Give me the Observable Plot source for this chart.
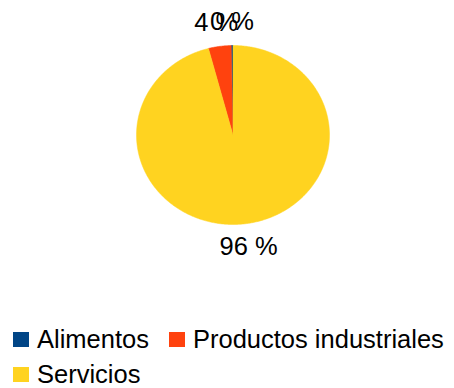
<!DOCTYPE html>
<html>
<head>
<meta charset="utf-8">
<script src="https://cdn.jsdelivr.net/npm/d3@7"></script>
<script src="https://cdn.jsdelivr.net/npm/@observablehq/plot@0.6"></script>
<style>
  html, body { margin: 0; padding: 0; background: #fff; }
  body { width: 454px; height: 388px; overflow: hidden; font-family: "Liberation Sans", Arial, sans-serif; }
  #legend { display: flex; flex-wrap: wrap; column-gap: 20px; width: 466px; padding-left: 13px; box-sizing: border-box; }
  .item { display: flex; align-items: center; height: 35px; font-size: 25.5px; color: #000; white-space: nowrap; }
  .sw { width: 16px; height: 15px; margin-right: 8px; }
</style>
</head>
<body>
<div id="chart"></div>
<div id="legend"></div>
<script>
const categories = ["Alimentos", "Productos industriales", "Servicios"];
const values = [0.3, 3.8, 95.9];
const labels = ["0 %", "4 %", "96 %"];
const colors = ["#004586", "#ff420e", "#ffd320"];

// pie geometry, counterclockwise from 12 o'clock (LibreOffice style)
const total = d3.sum(values);
let acc = 0;
const slices = categories.map((name, i) => {
  const a0 = acc / total * 2 * Math.PI;
  acc += values[i];
  const a1 = acc / total * 2 * Math.PI;
  return {name, a0, a1, label: labels[i]};
});
const pt = (a, r) => ({x: -Math.sin(a) * r, y: Math.cos(a) * r});
const wedgePts = [];
for (const s of slices) {
  const n = Math.max(2, Math.ceil((s.a1 - s.a0) / 0.01));
  wedgePts.push({name: s.name, ...pt(0, 0)});
  for (let k = 0; k <= n; k++) {
    const a = s.a0 + (s.a1 - s.a0) * k / n;
    wedgePts.push({name: s.name, ...pt(a, 1)});
  }
  wedgePts.push({name: s.name, ...pt(0, 0)});
}
const labelPts = slices.map(s => ({label: s.label, ...pt((s.a0 + s.a1) / 2, 1.265)}));

const plot = Plot.plot({
  width: 454,
  height: 322,
  margin: 0,
  x: {domain: [-1, 1], range: [136, 329], axis: null},
  y: {domain: [-1, 1], range: [224, 45], axis: null},
  color: {domain: categories, range: colors},
  style: {fontFamily: "'Liberation Sans', Arial, sans-serif", background: "#fff", overflow: "visible"},
  marks: [
    Plot.line(wedgePts, {x: "x", y: "y", z: "name", fill: "name", stroke: "name", strokeWidth: 0.5, curve: "linear"}),
    Plot.text(labelPts, {x: "x", y: "y", text: "label", fontSize: 25.5, fill: "#000", textAnchor: "middle", lineAnchor: "middle"})
  ]
});
document.getElementById("chart").appendChild(plot);

const legend = document.getElementById("legend");
categories.forEach((c, i) => {
  const item = document.createElement("div");
  item.className = "item";
  const sw = document.createElement("div");
  sw.className = "sw";
  sw.style.background = colors[i];
  const t = document.createElement("span");
  t.textContent = c;
  item.appendChild(sw);
  item.appendChild(t);
  legend.appendChild(item);
});
</script>
</body>
</html>
